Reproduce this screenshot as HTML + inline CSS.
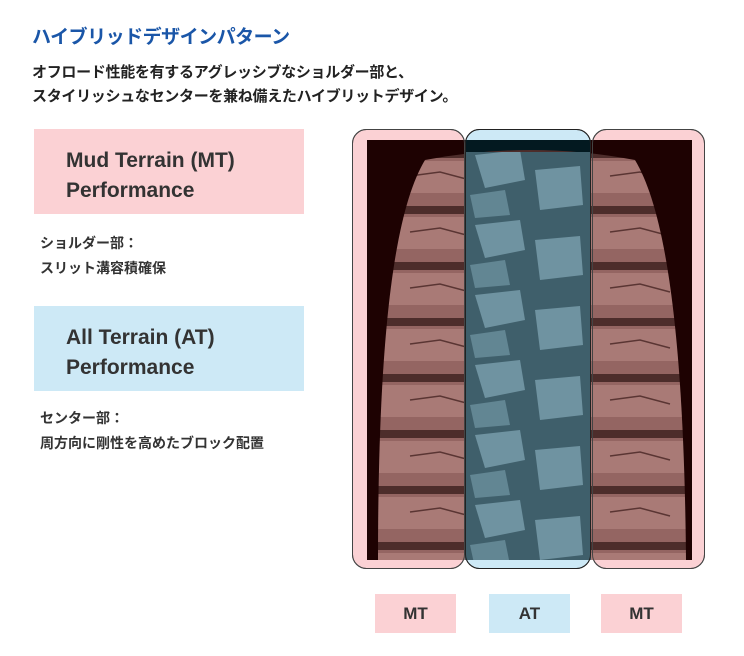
<!DOCTYPE html>
<html><head><meta charset="utf-8"><style>
body{margin:0;width:744px;height:656px;background:#fff;position:relative;overflow:hidden;font-family:"Liberation Sans","Noto Sans CJK JP",sans-serif;color:#222}
.a{position:absolute}
.t{left:32px;top:22px;font-size:19px;font-weight:bold;color:#1a56a8;letter-spacing:-0.5px}
.s{left:32px;font-size:15px;font-weight:bold;color:#222;letter-spacing:-0.3px}
.box{left:34px;width:270px;height:85px;font-size:21px;font-weight:bold;color:#333;box-sizing:border-box;padding:17px 0 0 32px;line-height:30px}
.n{left:40px;font-size:14px;font-weight:bold;color:#333;line-height:25px}
.lab{top:594px;height:39px;width:81px;font-size:17px;font-weight:bold;color:#333;text-align:center;line-height:39px}
</style></head><body>
<div class="a t">ハイブリッドデザインパターン</div>
<div class="a s" style="top:61px">オフロード性能を有するアグレッシブなショルダー部と、</div>
<div class="a s" style="top:85px">スタイリッシュなセンターを兼ね備えたハイブリットデザイン。</div>
<div class="a box" style="top:129px;background:#fbd1d4">Mud Terrain (MT)<br>Performance</div>
<div class="a n" style="top:231px">ショルダー部：<br>スリット溝容積確保</div>
<div class="a box" style="top:306px;background:#cde9f6">All Terrain (AT)<br>Performance</div>
<div class="a n" style="top:406px">センター部：<br>周方向に剛性を高めたブロック配置</div>

<svg class="a" style="left:0;top:0" width="744" height="656">
<defs>
<pattern id="lug" width="100" height="56" patternUnits="userSpaceOnUse" y="150">
<rect width="100" height="56" fill="#946562"/>
<rect y="0" width="100" height="8" fill="#4d2d2b"/>
<rect y="11" width="100" height="32" fill="#a97a76"/>
<path d="M10 26 L40 22 L70 30" stroke="#5a3533" fill="none" stroke-width="1.5"/>
</pattern>
<pattern id="cen" width="120" height="70" patternUnits="userSpaceOnUse" x="465" y="150">
<rect width="120" height="70" fill="#3f5f6b"/>
<path d="M10 5 L55 0 L60 30 L20 38 Z" fill="#6f93a1"/>
<path d="M70 20 L115 16 L118 55 L75 60 Z" fill="#6f93a1"/>
<path d="M5 45 L40 40 L45 65 L10 68 Z" fill="#628693"/>
</pattern>
</defs>
<rect x="352.5" y="129.5" width="112" height="439" rx="14" fill="#fbd1d4" stroke="#444"/>
<rect x="592.5" y="129.5" width="112" height="439" rx="14" fill="#fbd1d4" stroke="#444"/>
<rect x="465.5" y="129.5" width="125" height="439" rx="14" fill="#cde9f6" stroke="#444"/>
<rect x="367" y="140" width="325" height="420" fill="#1e0202"/>
<rect x="465" y="140" width="126" height="420" fill="#031920"/>
<path d="M378 560 C378 330 395 210 425 160 Q530 140 635 160 C665 210 684 330 686 560 Z" fill="url(#lug)"/>
<rect x="465" y="152" width="126" height="408" fill="url(#cen)"/>
<rect x="465.5" y="129.5" width="125" height="439" rx="14" fill="none" stroke="#222"/>
<rect x="352.5" y="129.5" width="112" height="439" rx="14" fill="none" stroke="#444"/>
<rect x="592.5" y="129.5" width="112" height="439" rx="14" fill="none" stroke="#444"/>
</svg>
<div class="a lab" style="left:375px;background:#fbd1d4">MT</div>
<div class="a lab" style="left:489px;background:#cde9f6">AT</div>
<div class="a lab" style="left:601px;background:#fbd1d4">MT</div>
</body></html>
